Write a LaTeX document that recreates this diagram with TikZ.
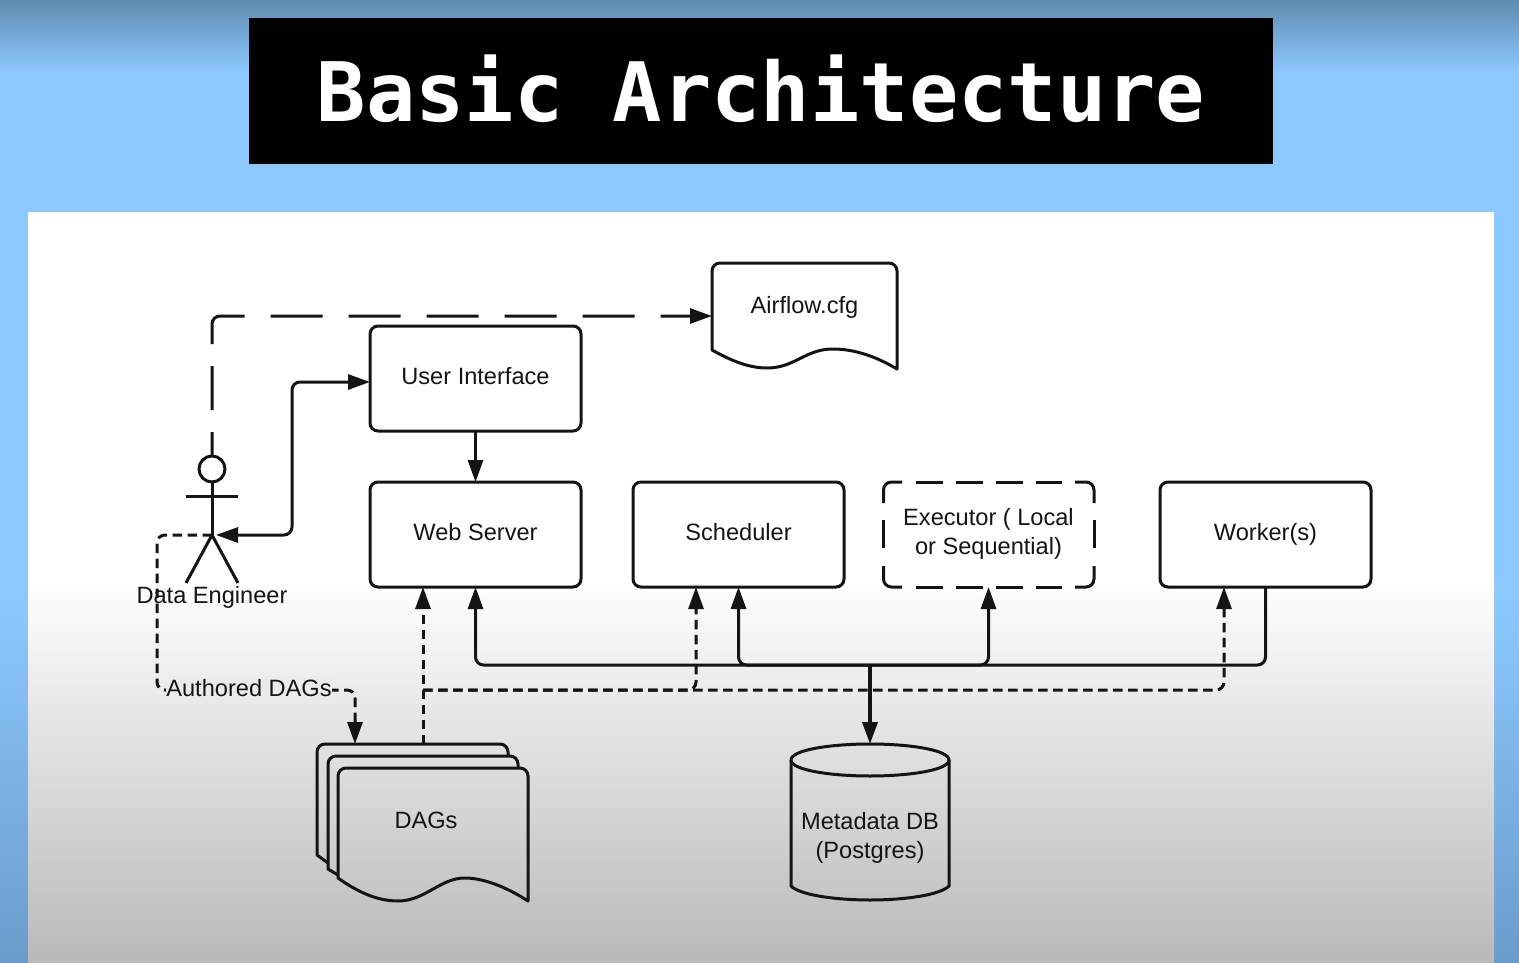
\documentclass[tikz,border=0pt]{standalone}
\usepackage{fontspec}
\setmainfont{Liberation Sans}
\newfontfamily\titlefont[Scale=1]{DejaVu Sans Mono Bold}
\usetikzlibrary{arrows.meta,calc}
\definecolor{skyblue}{HTML}{8CC8FE}
\definecolor{skydark}{HTML}{5F8BB0}
\definecolor{skylow}{HTML}{6A9CCB}
\definecolor{panelgrey}{HTML}{B9B9B9}
\definecolor{ink}{HTML}{141414}
\tikzset{
  x=1pt,y=-1pt,
  every node/.style={font=\fontsize{23.6}{29}\selectfont,text=ink,inner sep=0pt,outer sep=0pt,align=center},
  shape line/.style={draw=ink,line width=3pt},
  boxframe/.style={minimum width=211pt,minimum height=105pt},
  box/.style={shape line,boxframe,rounded corners=8pt},
  wire/.style={draw=ink,line width=3pt,rounded corners=8pt},
  tipped/.style={wire,-{Triangle[length=22pt,width=15pt]}},
  twotipped/.style={wire,{Triangle[length=22pt,width=15pt]}-{Triangle[length=22pt,width=15pt]}},
  shortdash/.style={dash pattern=on 9.5pt off 5.5pt},
  configdash/.style={dash pattern=on 24pt off 22pt on 44pt off 22pt on 57pt off 26pt on 52pt off 26pt on 52pt off 26pt on 52pt off 26pt on 52pt off 26pt on 52pt off 26pt on 80pt off 0pt},
}
\begin{document}
\begin{tikzpicture}
\useasboundingbox (0,0) rectangle (1519,963);
% background
\fill[skyblue] (0,0) rectangle (1519,963);
\shade[top color=skydark,bottom color=skyblue] (0,0) rectangle (1519,72);
\shade[top color=skyblue,bottom color=skylow] (0,600) rectangle (1519,963);
\fill[white] (28,212) rectangle (1494,963);
\shade[top color=white,bottom color=panelgrey] (28,580) rectangle (1494,963);
% title
\node[fill=black,minimum width=1024pt,minimum height=146pt,text=white,font=\titlefont\fontsize{82}{90}\selectfont] (title) at (761,91) {\raisebox{6pt}{Basic Architecture}};
% process boxes
\node[box] (ui) at (475.5,378.5) {\raisebox{6pt}{User Interface}};
\node[box] (web) at (475.5,534.5) {\raisebox{5pt}{Web Server}};
\node[box] (sched) at (738.5,534.5) {\raisebox{5pt}{Scheduler}};
\node[boxframe] (exec) at (988.5,534.5) {\raisebox{3pt}{\begin{tabular}{@{}c@{}}Executor ( Local\\or Sequential)\end{tabular}}};
\node[box] (worker) at (1265.5,534.5) {\raisebox{4pt}{Worker(s)}};
% executor dashed outline
\draw[shape line,rounded corners=8pt] (883.5,503) -- (883.5,482) -- (902,482);
\draw[shape line,rounded corners=8pt] (1075,482) -- (1094,482) -- (1094,503);
\draw[shape line,rounded corners=8pt] (883.5,566) -- (883.5,587) -- (902,587);
\draw[shape line,rounded corners=8pt] (1075,587) -- (1094,587) -- (1094,566);
\draw[shape line,dash pattern=on 26.5pt off 13.5pt] (916,482) -- (1062,482);
\draw[shape line,dash pattern=on 26.5pt off 13.5pt] (916,587) -- (1062,587);
\draw[shape line] (883.5,520) -- (883.5,548);
\draw[shape line] (1094,520) -- (1094,548);
% airflow.cfg document
\draw[shape line,line join=round]
  (712,350) -- (712,300) [rounded corners=8pt] -- (712,263) -- (897,263) -- (897,300) [sharp corners] -- (897,369)
  .. controls (877,357) and (855,349) .. (833,349)
  .. controls (805,349) and (795,368) .. (767,368)
  .. controls (748,368) and (730,360) .. (712,350) -- cycle;
\node[minimum width=185pt,minimum height=107pt] (cfg) at (804.5,316.5) {};
\node (cfgtext) at (804.5,307) {Airflow.cfg};
% DAG stack
\draw[shape line,line join=round]
  (328,863) -- (317,855) -- (317,800) [rounded corners=8pt] -- (317,744) -- (508,744) -- (508,757);
\draw[shape line,line join=round]
  (338,875) -- (328,869) -- (328,800) [rounded corners=8pt] -- (328,756) -- (518,756) -- (518,769);
\draw[shape line,line join=round]
  (338,878) -- (338,800) [rounded corners=8pt] -- (338,768) -- (528,768) -- (528,800) [sharp corners] -- (528,901)
  .. controls (505,886) and (482,878) .. (465,878)
  .. controls (440,878) and (425,901) .. (398,901)
  .. controls (375,901) and (355,890) .. (338,878) -- cycle;
\node[minimum width=191pt,minimum height=158pt] (dags) at (412.5,823) {};
\node (dagstext) at (426,820) {DAGs};
% database
\draw[shape line] (791,760) -- (791,886)
  .. controls (800,895) and (835,900) .. (870,900)
  .. controls (905,900) and (940,895) .. (949,886) -- (949,760)
  .. controls (949,750) and (910,744) .. (870,744)
  .. controls (830,744) and (791,750) .. (791,760) -- cycle;
\draw[shape line] (791,760) .. controls (791,770) and (830,776) .. (870,776)
  .. controls (910,776) and (949,770) .. (949,760);
\node[minimum width=158pt,minimum height=156pt] (db) at (870,822) {};
\node (dbtext) at (870,837.5) {Metadata DB\\(Postgres)};
% actor
\node[shape line,circle,minimum size=26pt] (head) at (212,469) {};
\coordinate (neck) at (212,535);
\coordinate (neckright) at (216,535);
\coordinate (armL) at (186,496);
\coordinate (armR) at (238,496);
\coordinate (legL) at (186,583);
\coordinate (legR) at (238,583);
\draw[shape line] (head.south) -- (neck);
\draw[shape line] (armL) -- (armR);
\draw[shape line] (legL) -- (neck) -- (legR);
\node (actortext) at (212,597) {Data Engineer};
% way-points
\coordinate (hub) at (870,665);
\coordinate (dagtop) at (423,744);
\coordinate (dagjoin) at (423,690);
\coordinate (schedx) at (696,690);
\coordinate (workx) at (1224,690);
\coordinate (authL) at (157,535);
\coordinate (authB) at (157,690);
\coordinate (authD) at (355,690);
\coordinate (authT) at (355,744);
% config line
\draw[tipped,configdash] (head.north) -- (212,316) -- (cfg.west |- 0,316);
% solid connectors
\draw[twotipped] (ui.west |- 0,382) -- (292,382) -- (292,535) -- (neckright);
\draw[tipped] (ui.south) -- (web.north);
\draw[tipped] (hub) -| (web.south);
\draw[tipped] (hub) -| (sched.south);
\draw[tipped] (hub) -| (exec.south);
\draw[wire] (hub) -| (worker.south);
\draw[tipped,line width=3.6pt] (hub) -- (db.north);
% dashed connectors
\draw[tipped,shortdash] (neck) -- (authL) -- (authB) -- (authD) -- (authT);
\node[fill=white!92!black,inner xsep=0pt,inner ysep=0pt] (authtext) at (249,688) {Authored DAGs};
\draw[tipped,shortdash] (dagtop) -- (dagjoin |- web.south);
\draw[tipped,shortdash] (dagjoin) -- (schedx) -- (schedx |- sched.south);
\draw[tipped,shortdash] (dagjoin) -- (workx) -- (workx |- worker.south);
\end{tikzpicture}
\end{document}
